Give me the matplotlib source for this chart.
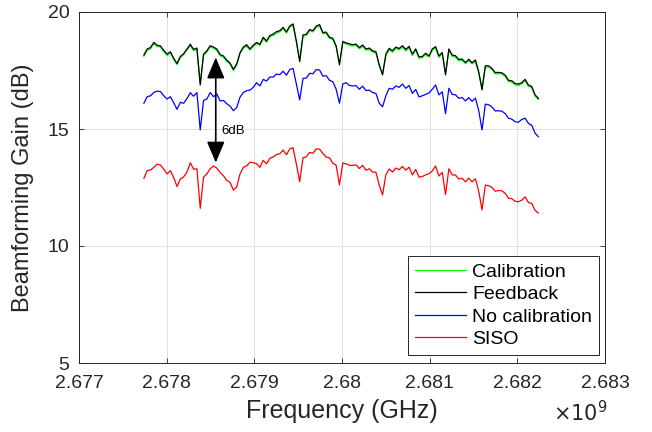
import numpy as np
import matplotlib
matplotlib.use("Agg")
import matplotlib.pyplot as plt
from matplotlib.patches import ArrowStyle

plt.rcParams['font.family'] = ['Liberation Sans', 'DejaVu Sans']

# ---------------- data ----------------
f_start = 2.67774e9
f_stop = 2.68224e9
n_pts = 120

feedback = [18.16, 18.42, 18.48, 18.70, 18.58, 18.55, 18.36, 18.20, 18.30, 18.02,
            17.80, 18.10, 18.22, 18.42, 18.62, 18.40, 18.46, 16.88, 18.20, 18.34,
            18.56, 18.50, 18.42, 18.18, 18.12, 17.94, 17.82, 17.55, 17.78, 18.26,
            18.50, 18.60, 18.42, 18.58, 18.70, 18.62, 18.92, 18.76, 19.00, 19.05,
            19.16, 19.20, 19.34, 19.15, 19.40, 19.49, 18.75, 17.88, 19.02, 19.05,
            19.25, 19.20, 19.40, 19.46, 19.12, 19.14, 18.92, 18.88, 18.55, 17.74,
            18.74, 18.68, 18.64, 18.60, 18.63, 18.48, 18.59, 18.42, 18.46, 18.34,
            18.30, 17.74, 17.31, 18.20, 18.45, 18.34, 18.50, 18.44, 18.56, 18.40,
            18.53, 18.20, 18.42, 18.08, 18.10, 18.24, 18.12, 18.42, 18.52, 18.12,
            18.27, 17.31, 18.42, 18.16, 18.13, 17.97, 17.99, 17.84, 17.98, 17.83,
            17.95, 17.45, 16.67, 17.70, 17.70, 17.59, 17.41, 17.42, 17.40, 17.30,
            17.08, 17.06, 16.94, 16.92, 16.98, 17.12, 16.88, 16.82, 16.46, 16.31]

calibration = [18.11, 18.36, 18.43, 18.64, 18.53, 18.50, 18.31, 18.14, 18.25, 17.97,
               17.75, 18.04, 18.17, 18.37, 18.56, 18.35, 18.40, 16.95, 18.14, 18.29,
               18.50, 18.45, 18.36, 18.13, 18.06, 17.89, 17.77, 17.50, 17.72, 18.21,
               18.45, 18.54, 18.37, 18.52, 18.65, 18.57, 18.86, 18.71, 18.94, 19.00,
               19.10, 19.15, 19.28, 19.10, 19.34, 19.43, 18.71, 17.95, 18.96, 19.00,
               19.19, 19.15, 19.34, 19.40, 19.07, 19.08, 18.87, 18.82, 18.50, 17.80,
               18.68, 18.63, 18.58, 18.55, 18.57, 18.43, 18.53, 18.37, 18.40, 18.29,
               18.24, 17.70, 17.38, 18.14, 18.40, 18.28, 18.45, 18.38, 18.51, 18.34,
               18.48, 18.14, 18.37, 18.02, 18.05, 18.18, 18.07, 18.36, 18.47, 18.06,
               18.22, 17.38, 18.36, 18.11, 18.07, 17.92, 17.93, 17.79, 17.92, 17.78,
               17.89, 17.40, 16.74, 17.64, 17.65, 17.53, 17.36, 17.36, 17.35, 17.24,
               17.03, 17.00, 16.89, 16.86, 16.93, 17.06, 16.83, 16.76, 16.40, 16.26]

no_calibration = [16.10, 16.38, 16.42, 16.56, 16.62, 16.60, 16.42, 16.28, 16.38, 16.12,
                  15.84, 16.14, 16.10, 16.30, 16.55, 16.40, 16.56, 14.96, 16.22, 16.28,
                  16.56, 16.38, 16.50, 16.20, 16.22, 16.08, 15.98, 15.78, 15.92, 16.36,
                  16.56, 16.64, 16.66, 16.78, 16.98, 16.84, 17.12, 17.05, 17.22, 17.22,
                  17.35, 17.32, 17.47, 17.30, 17.54, 17.59, 16.92, 16.24, 17.16, 17.18,
                  17.38, 17.36, 17.54, 17.52, 17.26, 17.28, 17.08, 17.02, 16.70, 16.10,
                  16.92, 16.98, 16.86, 16.84, 16.85, 16.70, 16.83, 16.64, 16.66, 16.56,
                  16.52, 16.10, 15.95, 16.42, 16.74, 16.70, 16.84, 16.78, 16.92, 16.74,
                  16.86, 16.52, 16.69, 16.37, 16.42, 16.48, 16.54, 16.70, 16.88, 16.46,
                  16.59, 15.66, 16.74, 16.48, 16.46, 16.31, 16.35, 16.20, 16.34, 16.18,
                  16.32, 15.80, 14.96, 16.06, 16.04, 15.94, 15.77, 15.78, 15.76, 15.66,
                  15.46, 15.42, 15.31, 15.29, 15.41, 15.46, 15.24, 15.16, 14.82, 14.67]

siso = [12.89, 13.22, 13.25, 13.36, 13.50, 13.46, 13.28, 13.08, 13.22, 12.92,
        12.54, 12.86, 12.96, 13.16, 13.56, 13.28, 13.30, 11.61, 12.94, 13.08,
        13.30, 13.42, 13.33, 13.14, 13.00, 12.81, 12.72, 12.39, 12.52, 13.08,
        13.36, 13.42, 13.58, 13.56, 13.52, 13.36, 13.66, 13.51, 13.75, 13.80,
        13.91, 13.94, 14.10, 13.90, 14.15, 14.20, 13.50, 12.75, 13.77, 13.81,
        14.00, 13.96, 14.15, 14.14, 13.95, 13.80, 13.77, 13.54, 13.45, 12.61,
        13.55, 13.51, 13.45, 13.44, 13.47, 13.31, 13.45, 13.24, 13.30, 13.16,
        13.15, 12.60, 12.18, 13.05, 13.29, 13.16, 13.33, 13.26, 13.40, 13.24,
        13.37, 13.04, 13.27, 12.94, 12.97, 13.04, 13.09, 13.21, 13.42, 12.99,
        13.15, 12.20, 13.30, 13.04, 13.03, 12.86, 12.90, 12.74, 12.90, 12.74,
        12.87, 12.35, 11.54, 12.60, 12.58, 12.50, 12.34, 12.37, 12.36, 12.25,
        12.04, 12.02, 11.91, 11.89, 11.96, 12.10, 11.86, 11.82, 11.52, 11.41]

series_names = ["Calibration", "Feedback", "No calibration", "SISO"]
series_colors = ["#00ff00", "#000000", "#0000ff", "#ff0000"]

x_ticks = [2.677e9, 2.678e9, 2.679e9, 2.680e9, 2.681e9, 2.682e9, 2.683e9]
x_ticklabels = ["2.677", "2.678", "2.679", "2.68", "2.681", "2.682", "2.683"]
y_ticks = [5, 10, 15, 20]

arrow_f = 2.67856e9
arrow_top = 18.06
arrow_bottom = 13.56
arrow_text = "6dB"

# ---------------- plot ----------------
freq = np.linspace(f_start, f_stop, n_pts)

fig = plt.figure(figsize=(6.52, 4.32), dpi=100)
ax = fig.add_axes([79/652, 1-363/432, 526/652, 351/432])

for vals, name, col in zip([calibration, feedback, no_calibration, siso],
                           series_names, series_colors):
    ax.plot(freq, vals, color=col, lw=0.9, label=name)

ax.set_xlim(2.677e9, 2.683e9)
ax.set_ylim(5, 20)
ax.set_xticks(x_ticks)
ax.set_xticklabels(x_ticklabels)
ax.set_yticks(y_ticks)

tc = "#262626"
ax.tick_params(direction='in', length=3.5, width=0.6, top=True, right=True,
               labelsize=14, colors=tc)
ax.tick_params(axis='x', pad=9)
ax.tick_params(axis='y', pad=7)
ax.grid(True, color="#dcdcdc", lw=0.6)
ax.set_axisbelow(True)
for s in ax.spines.values():
    s.set_color(tc)
    s.set_linewidth(0.7)

ax.set_xlabel("Frequency (GHz)", fontsize=18, color=tc, labelpad=5)
ax.set_ylabel("Beamforming Gain (dB)", fontsize=17, color=tc, labelpad=10)
fig.text(580/652, 1-413/432, r"$\times10^{9}$", fontsize=15, color=tc,
         ha='center', va='center')

ax.annotate("", xy=(arrow_f, arrow_bottom), xytext=(arrow_f, arrow_top),
            arrowprops=dict(arrowstyle=ArrowStyle('<|-|>', head_length=1.0, head_width=0.42),
                            color='k', lw=1.2, mutation_scale=13,
                            shrinkA=0, shrinkB=0))
ax.text(arrow_f + 0.00006e9, 14.9, arrow_text, fontsize=9.5, ha='left', va='center')

leg = ax.legend(loc='lower right', bbox_to_anchor=(0.9886, 0.0228), fontsize=14,
                frameon=True, fancybox=False, framealpha=1, edgecolor='#262626',
                handlelength=2.6, handletextpad=0.35, borderaxespad=0,
                labelspacing=0.25, borderpad=0.35)
leg.get_frame().set_linewidth(0.7)

fig.savefig("out.png", dpi=100)
